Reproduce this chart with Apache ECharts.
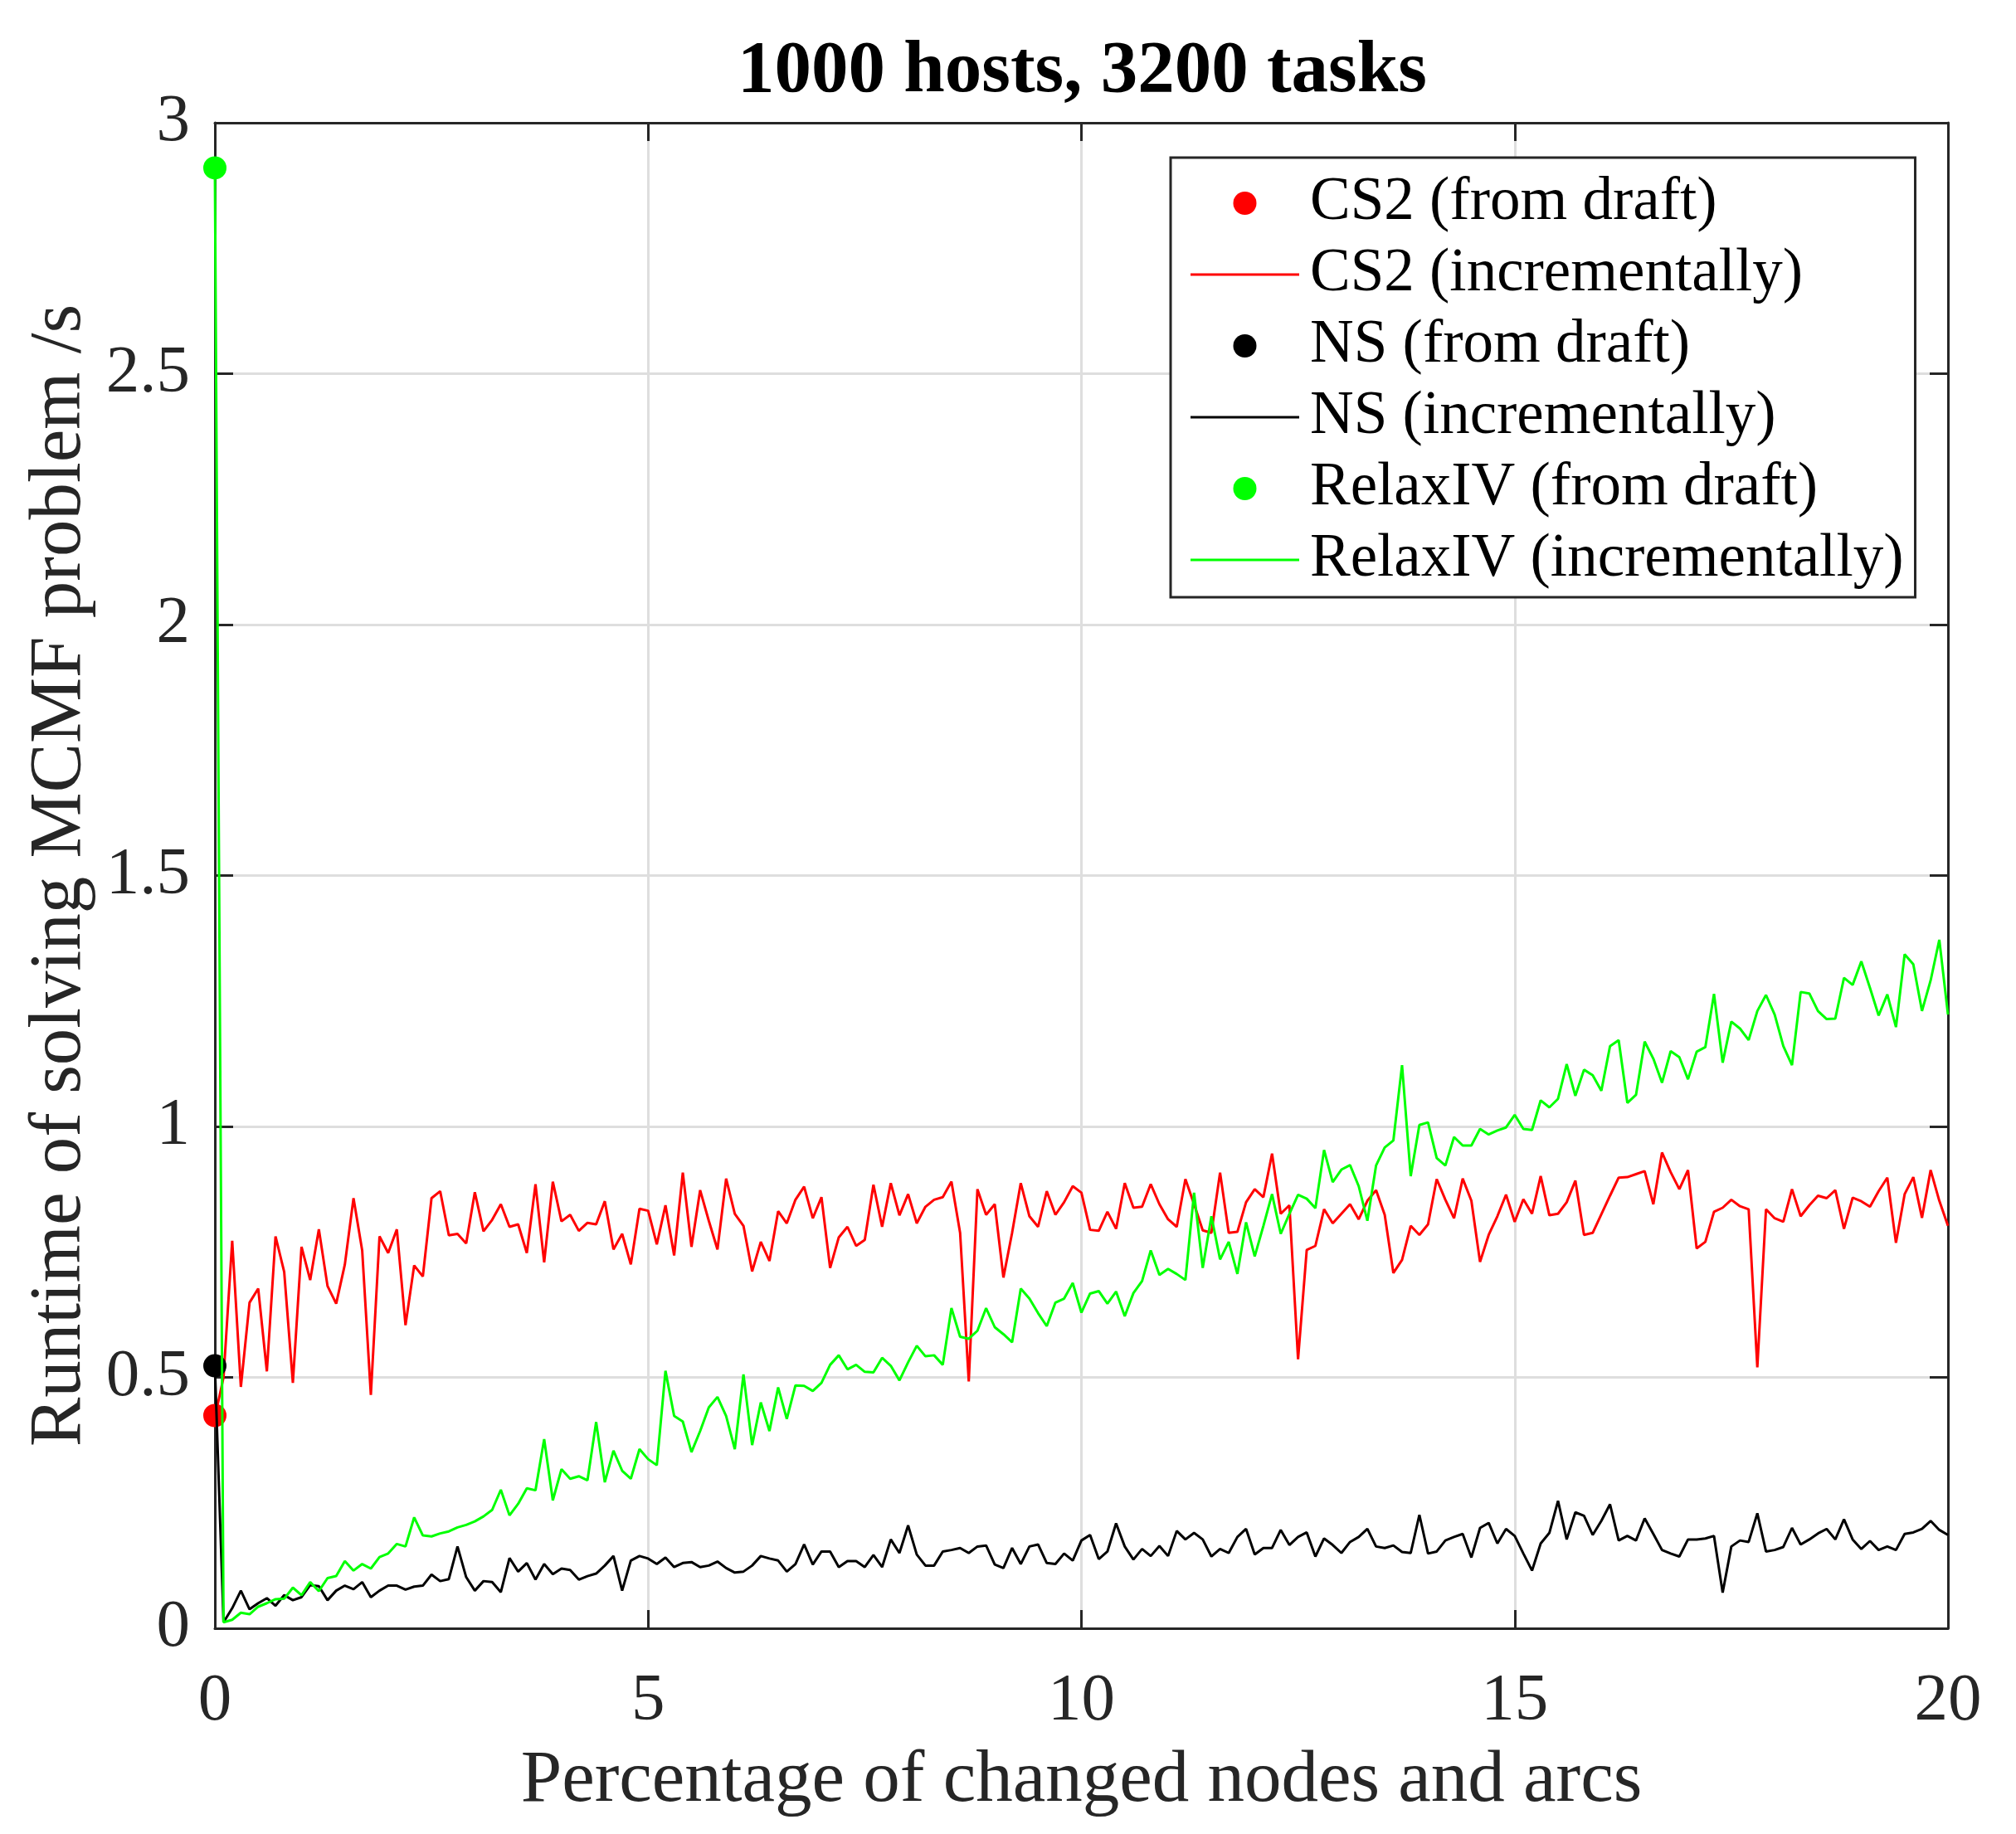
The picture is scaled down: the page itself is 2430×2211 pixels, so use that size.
<!DOCTYPE html>
<html lang="en">
<head>
    <meta charset="UTF-8">
    <title>1000 hosts, 3200 tasks</title>
    <script src="https://cdn.jsdelivr.net/npm/echarts@6/dist/echarts.min.js"></script>
    <style>
        body { margin: 0; background: #fff; }
        #chart { width: 2430px; height: 2211px; }
    </style>
</head>
<body>
    <div id="chart"></div>
    <script>
        // x runs 0 .. 20 in steps of 0.1 (201 samples per curve)
        const STEP = 0.1;

        const cs2Draft = 0.424;
        const nsDraft = 0.523;
        const relaxDraft = 2.91;

        const cs2Incr = [
            0.42, 0.50, 0.772, 0.481, 0.649, 0.677, 0.512, 0.781, 0.71, 0.489,
            0.760, 0.694, 0.795, 0.682, 0.647, 0.725, 0.857, 0.753, 0.465, 0.781,
            0.748, 0.795, 0.604, 0.723, 0.701, 0.857, 0.871, 0.783, 0.786, 0.767,
            0.869, 0.791, 0.814, 0.845, 0.80, 0.805, 0.748, 0.885, 0.729, 0.890,
            0.811, 0.824, 0.792, 0.808, 0.805, 0.851, 0.755, 0.786, 0.725, 0.836,
            0.832, 0.765, 0.843, 0.743, 0.908, 0.760, 0.873, 0.812, 0.755, 0.896,
            0.826, 0.802, 0.711, 0.770, 0.732, 0.831, 0.807, 0.854, 0.880, 0.817,
            0.859, 0.718, 0.779, 0.80, 0.762, 0.774, 0.884, 0.80, 0.887, 0.823,
            0.865, 0.807, 0.840, 0.854, 0.859, 0.89, 0.788, 0.492, 0.875, 0.824,
            0.845, 0.699, 0.788, 0.887, 0.821, 0.80, 0.871, 0.824, 0.849, 0.881,
            0.868, 0.794, 0.792, 0.83, 0.796, 0.887, 0.838, 0.840, 0.885, 0.845,
            0.815, 0.80, 0.895, 0.845, 0.793, 0.788, 0.908, 0.788, 0.790, 0.849,
            0.875, 0.859, 0.946, 0.826, 0.843, 0.536, 0.754, 0.762, 0.835, 0.807,
            0.826, 0.845, 0.815, 0.852, 0.873, 0.824, 0.708, 0.734, 0.802, 0.784,
            0.805, 0.895, 0.854, 0.817, 0.896, 0.852, 0.73, 0.784, 0.821, 0.864,
            0.810, 0.855, 0.826, 0.901, 0.823, 0.826, 0.849, 0.892, 0.784, 0.788,
            0.825, 0.862, 0.898, 0.899, 0.905, 0.911, 0.845, 0.948, 0.909, 0.875,
            0.913, 0.757, 0.77, 0.83, 0.838, 0.854, 0.841, 0.835, 0.52, 0.835,
            0.817, 0.81, 0.875, 0.821, 0.843, 0.862, 0.857, 0.873, 0.796, 0.858,
            0.851, 0.84, 0.871, 0.898, 0.768, 0.865, 0.899, 0.818, 0.913, 0.852,
            0.802
        ];

        const nsIncr = [
            0.523, 0.012, 0.04, 0.075, 0.038, 0.05, 0.06, 0.045, 0.066, 0.056,
            0.062, 0.086, 0.084, 0.056, 0.075, 0.085, 0.078, 0.092, 0.062, 0.075,
            0.085, 0.085, 0.077, 0.083, 0.085, 0.107, 0.094, 0.098, 0.163, 0.102,
            0.075, 0.094, 0.092, 0.072, 0.14, 0.113, 0.13, 0.097, 0.128, 0.108,
            0.119, 0.116, 0.097, 0.104, 0.109, 0.125, 0.144, 0.075, 0.135, 0.144,
            0.139, 0.128, 0.141, 0.122, 0.13, 0.132, 0.122, 0.125, 0.133, 0.12,
            0.111, 0.113, 0.125, 0.144, 0.139, 0.135, 0.113, 0.128, 0.167, 0.127,
            0.153, 0.153, 0.122, 0.134, 0.134, 0.122, 0.146, 0.122, 0.177, 0.15,
            0.205, 0.147, 0.125, 0.125, 0.153, 0.156, 0.16, 0.15, 0.163, 0.165,
            0.127, 0.12, 0.16, 0.128, 0.163, 0.167, 0.13, 0.128, 0.149, 0.135,
            0.175, 0.186, 0.138, 0.153, 0.209, 0.163, 0.137, 0.158, 0.144, 0.164,
            0.144, 0.194, 0.177, 0.19, 0.177, 0.143, 0.158, 0.15, 0.182, 0.198,
            0.147, 0.16, 0.16, 0.196, 0.166, 0.182, 0.191, 0.143, 0.179, 0.166,
            0.15, 0.172, 0.182, 0.198, 0.163, 0.16, 0.165, 0.152, 0.15, 0.226,
            0.149, 0.153, 0.175, 0.182, 0.188, 0.141, 0.20, 0.21, 0.169, 0.198,
            0.184, 0.149, 0.115, 0.169, 0.19, 0.254, 0.177, 0.231, 0.224, 0.186,
            0.214, 0.247, 0.175, 0.184, 0.175, 0.219, 0.188, 0.156, 0.149, 0.143,
            0.177, 0.177, 0.179, 0.184, 0.071, 0.163, 0.175, 0.172, 0.229, 0.153,
            0.156, 0.162, 0.20, 0.167, 0.177, 0.189, 0.198, 0.177, 0.217, 0.177,
            0.158, 0.174, 0.156, 0.163, 0.156, 0.188, 0.191, 0.198, 0.214, 0.196,
            0.186
        ];

        const relaxIncr = [
            2.91, 0.012, 0.017, 0.031, 0.028, 0.043, 0.05, 0.058, 0.059, 0.081,
            0.066, 0.092, 0.074, 0.10, 0.104, 0.134, 0.115, 0.128, 0.119, 0.142,
            0.149, 0.168, 0.163, 0.221, 0.185, 0.183, 0.189, 0.193, 0.201, 0.206,
            0.213, 0.223, 0.236, 0.276, 0.225, 0.248, 0.279, 0.275, 0.377, 0.255,
            0.317, 0.298, 0.303, 0.295, 0.411, 0.291, 0.354, 0.314, 0.298, 0.357,
            0.337, 0.325, 0.513, 0.423, 0.412, 0.351, 0.393, 0.44, 0.461, 0.423,
            0.357, 0.506, 0.365, 0.45, 0.393, 0.48, 0.417, 0.484, 0.483, 0.473,
            0.489, 0.525, 0.544, 0.516, 0.525, 0.511, 0.51, 0.539, 0.523, 0.494,
            0.53, 0.563, 0.542, 0.544, 0.525, 0.638, 0.581, 0.577, 0.593, 0.638,
            0.60, 0.586, 0.570, 0.677, 0.657, 0.628, 0.602, 0.649, 0.657, 0.688,
            0.629, 0.667, 0.672, 0.647, 0.671, 0.622, 0.668, 0.692, 0.753, 0.704,
            0.716, 0.706, 0.694, 0.868, 0.718, 0.821, 0.735, 0.77, 0.706, 0.809,
            0.741, 0.802, 0.865, 0.786, 0.826, 0.864, 0.856, 0.837, 0.953, 0.889,
            0.914, 0.923, 0.881, 0.812, 0.922, 0.958, 0.972, 1.122, 0.901, 1.003,
            1.008, 0.937, 0.922, 0.979, 0.962, 0.962, 0.995, 0.984, 0.992, 0.998,
            1.023, 0.995, 0.993, 1.052, 1.038, 1.055, 1.124, 1.061, 1.113, 1.102,
            1.071, 1.16, 1.172, 1.047, 1.063, 1.169, 1.135, 1.087, 1.15, 1.138,
            1.094, 1.149, 1.158, 1.264, 1.127, 1.209, 1.195, 1.172, 1.23, 1.262,
            1.223, 1.16, 1.122, 1.268, 1.265, 1.23, 1.214, 1.215, 1.296, 1.282,
            1.329, 1.276, 1.221, 1.263, 1.198, 1.343, 1.323, 1.23, 1.291, 1.372,
            1.223
        ];

        const xTicks = { min: 0, max: 20, interval: 5 };
        const yTicks = { min: 0, max: 3, interval: 0.5 };

        const FONT = '"Liberation Serif", "Times New Roman", serif';
        const AXIS_COLOR = '#262626';
        const RED = '#ff0000', BLACK = '#000000', GREEN = '#00ff00';

        const toPairs = arr => arr.map((v, i) => [+(i * STEP).toFixed(1), v]);

        const lineIcon = 'path://M0,0 L131,0 L131,3 L0,3 Z';

        const baseAxis = {
            type: 'value',
            axisLine: { show: true, onZero: false, lineStyle: { color: AXIS_COLOR, width: 3 } },
            axisTick: { show: true, inside: true, length: 22, lineStyle: { color: AXIS_COLOR, width: 3 } },
            minorTick: { show: false }
        };

        const myChart = echarts.init(document.getElementById('chart'));
        const option = {
            backgroundColor: '#ffffff',
            animation: false,
            title: {
                text: '1000 hosts, 3200 tasks',
                left: 884,
                top: 38,
                textStyle: { fontFamily: FONT, fontSize: 89, fontWeight: 'bold', color: '#000' }
            },
            grid: { left: 259, right: 82, top: 148, bottom: 248, containLabel: false },
            legend: {
                orient: 'vertical',
                left: 1411,
                top: 190,
                backgroundColor: '#ffffff',
                borderColor: AXIS_COLOR,
                borderWidth: 3,
                padding: [12, 14, 2, 24],
                itemWidth: 131,
                itemHeight: 28,
                itemGap: 0,
                textStyle: { fontFamily: FONT, fontSize: 73, color: '#000', lineHeight: 86, padding: [0, 0, 0, 8] },
                data: [
                    { name: 'CS2 (from draft)', icon: 'circle', itemStyle: { color: RED, opacity: 1 } },
                    { name: 'CS2 (incrementally)', icon: lineIcon, itemStyle: { color: RED } },
                    { name: 'NS (from draft)', icon: 'circle', itemStyle: { color: BLACK, opacity: 1 } },
                    { name: 'NS (incrementally)', icon: lineIcon, itemStyle: { color: BLACK } },
                    { name: 'RelaxIV (from draft)', icon: 'circle', itemStyle: { color: GREEN, opacity: 1 } },
                    { name: 'RelaxIV (incrementally)', icon: lineIcon, itemStyle: { color: GREEN } }
                ]
            },
            xAxis: [
                Object.assign({}, baseAxis, xTicks, {
                    position: 'bottom',
                    name: 'Percentage of changed nodes and arcs',
                    nameLocation: 'middle',
                    nameGap: 140,
                    nameTextStyle: { fontFamily: FONT, fontSize: 89, color: AXIS_COLOR },
                    axisLabel: { fontFamily: FONT, fontSize: 81, color: AXIS_COLOR, margin: 48 },
                    splitLine: { show: true, lineStyle: { color: '#dedede', width: 3 } }
                }),
                Object.assign({}, baseAxis, xTicks, {
                    position: 'top',
                    axisLabel: { show: false },
                    splitLine: { show: false }
                })
            ],
            yAxis: [
                Object.assign({}, baseAxis, yTicks, {
                    position: 'left',
                    name: 'Runtime of solving MCMF problem /s',
                    nameLocation: 'middle',
                    nameGap: 135,
                    nameTextStyle: { fontFamily: FONT, fontSize: 89, color: AXIS_COLOR },
                    axisLabel: { fontFamily: FONT, fontSize: 81, color: AXIS_COLOR, margin: 30 },
                    splitLine: { show: true, lineStyle: { color: '#dedede', width: 3 } }
                }),
                Object.assign({}, baseAxis, yTicks, {
                    position: 'right',
                    axisLabel: { show: false },
                    splitLine: { show: false }
                })
            ],
            series: [
                {
                    name: 'CS2 (from draft)', type: 'scatter', clip: false,
                    symbolSize: 28, itemStyle: { color: RED, opacity: 1 }, data: [[0, cs2Draft]], z: 3
                },
                {
                    name: 'CS2 (incrementally)', type: 'line', symbol: 'none', showSymbol: false,
                    itemStyle: { color: RED }, lineStyle: { color: RED, width: 3 },
                    data: toPairs(cs2Incr), z: 2
                },
                {
                    name: 'NS (from draft)', type: 'scatter', clip: false,
                    symbolSize: 28, itemStyle: { color: BLACK, opacity: 1 }, data: [[0, nsDraft]], z: 5
                },
                {
                    name: 'NS (incrementally)', type: 'line', symbol: 'none', showSymbol: false,
                    itemStyle: { color: BLACK }, lineStyle: { color: BLACK, width: 3 },
                    data: toPairs(nsIncr), z: 4
                },
                {
                    name: 'RelaxIV (from draft)', type: 'scatter', clip: false,
                    symbolSize: 28, itemStyle: { color: GREEN, opacity: 1 }, data: [[0, relaxDraft]], z: 7
                },
                {
                    name: 'RelaxIV (incrementally)', type: 'line', symbol: 'none', showSymbol: false,
                    itemStyle: { color: GREEN }, lineStyle: { color: GREEN, width: 3 },
                    data: toPairs(relaxIncr), z: 6
                }
            ]
        };
        myChart.setOption(option);
    </script>
</body>
</html>
